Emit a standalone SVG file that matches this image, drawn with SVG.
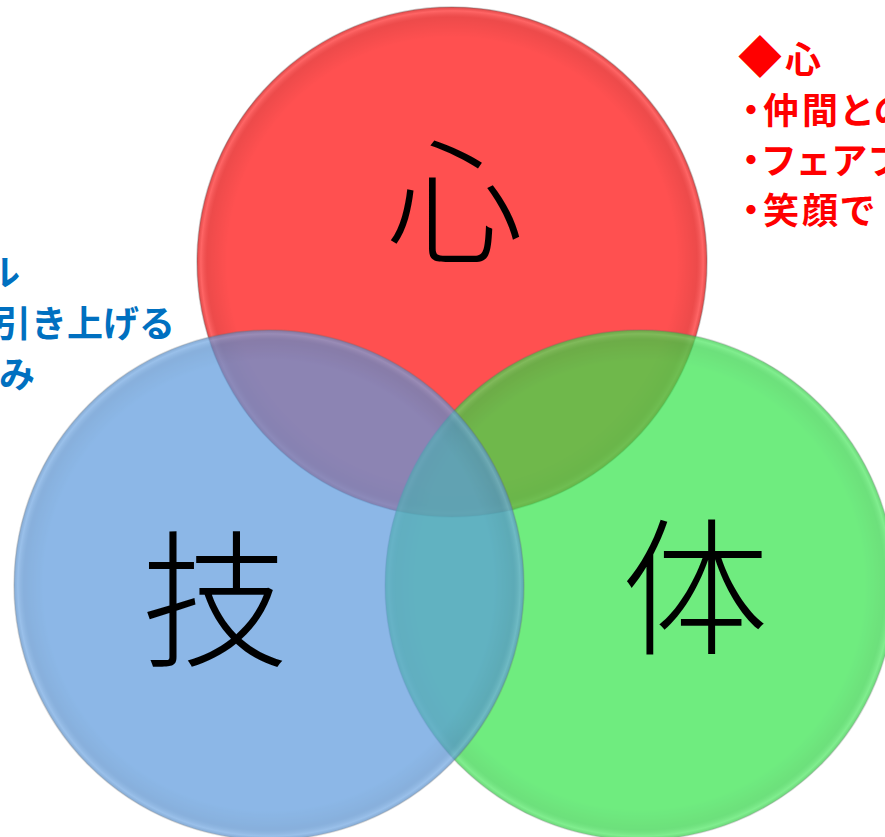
<svg xmlns="http://www.w3.org/2000/svg" width="885" height="837" viewBox="0 0 885 837">
  <style>
    .big { font-family: "Noto Sans CJK JP", "Noto Sans CJK SC", sans-serif; font-weight: 300; font-size: 148px; fill: #000; text-anchor: middle; }
    .note { font-family: "Noto Sans CJK JP", "Noto Sans CJK SC", sans-serif; font-weight: 700; font-size: 36px; }
    .red { fill: #FF0000; font-feature-settings: "palt"; letter-spacing: 3px; }
    .blue { fill: #0070C0; text-anchor: end; }
    .edge { fill: none; stroke: #6a6a6a; stroke-opacity: 0.35; stroke-width: 1.5; }
  </style>
  <defs>
    <radialGradient id="rim">
      <stop offset="0.88" stop-color="#000" stop-opacity="0"/>
      <stop offset="0.96" stop-color="#000" stop-opacity="0.07"/>
      <stop offset="0.985" stop-color="#fff" stop-opacity="0.12"/>
      <stop offset="1" stop-color="#000" stop-opacity="0.12"/>
    </radialGradient>
  </defs>
  <rect width="885" height="837" fill="#FFFFFF"/>

  <g id="node-shin">
    <circle cx="452" cy="262" r="255" fill="#FF5050"/>
    <circle cx="452" cy="262" r="255" fill="url(#rim)"/>
    <circle class="edge" cx="452" cy="262" r="255"/>
  </g>
  <g id="node-tai">
    <g opacity="0.7">
      <circle cx="640" cy="585" r="255" fill="#33E44A"/>
      <circle cx="640" cy="585" r="255" fill="url(#rim)"/>
      <circle class="edge" cx="640" cy="585" r="255"/>
    </g>
  </g>
  <g id="node-gi">
    <g opacity="0.7">
      <circle cx="269" cy="585" r="255" fill="#5C9ADE"/>
      <circle cx="269" cy="585" r="255" fill="url(#rim)"/>
      <circle class="edge" cx="269" cy="585" r="255"/>
    </g>
  </g>

  <g id="labels">
    <text class="big" x="455" y="254" style="font-size:136px">心</text>
    <text class="big" x="215" y="655">技</text>
    <text class="big" x="695" y="643">体</text>
  </g>

  <g id="note-shin" class="note red">
    <text x="738" y="73"><tspan style="font-size:44px">◆</tspan>心</text>
    <text x="742" y="124">・仲間との</text>
    <text x="742" y="174">・フェアプ</text>
    <text x="742" y="224">・笑顔で</text>
  </g>

  <g id="note-gi" class="note blue">
    <text x="20" y="286">ル</text>
    <text x="175" y="337">引き上げる</text>
    <text x="35" y="388">み</text>
  </g>

  <g id="connectors"></g>
</svg>
